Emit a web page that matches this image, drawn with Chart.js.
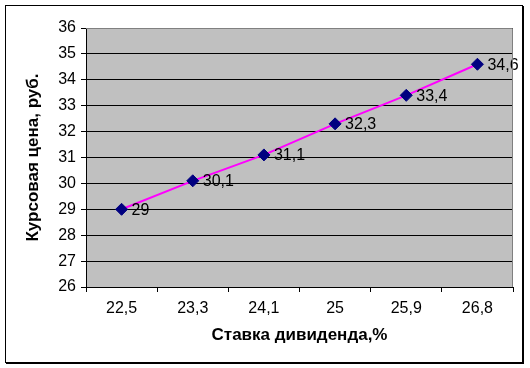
<!DOCTYPE html>
<html>
<head>
<meta charset="utf-8">
<script src="https://cdn.jsdelivr.net/npm/chart.js@4/dist/chart.umd.min.js"></script>
<style>
  html, body { margin: 0; padding: 0; background: #fff; }
  #wrap { width: 530px; height: 368px; position: relative; }
</style>
</head>
<body>
<div id="wrap"><canvas id="myChart" width="530" height="368"></canvas></div>
<script>
const rates = ["22,5", "23,3", "24,1", "25", "25,9", "26,8"];
const prices = [29, 30.1, 31.1, 32.3, 33.4, 34.6];
const yMin = 26;
const yMax = 36;

// gray plot area + outer frame
const backdrop = {
  id: "backdrop",
  beforeDraw: (chart) => {
    const ctx = chart.ctx;
    const a = chart.chartArea;
    ctx.save();
    ctx.fillStyle = "#fff";
    ctx.fillRect(0, 0, chart.width, chart.height);
    ctx.fillStyle = "#c0c0c0";
    ctx.fillRect(a.left, a.top, a.right - a.left, a.bottom - a.top);
    ctx.strokeStyle = "#000";
    ctx.lineWidth = 1;
    ctx.strokeRect(5.5, 5.5, 517, 357);
    ctx.lineWidth = 2;
    ctx.beginPath();
    ctx.moveTo(523, 6);
    ctx.lineTo(523, 363);
    ctx.lineTo(6, 363);
    ctx.stroke();
    ctx.restore();
  },
  afterDraw: (chart) => {
    const ctx = chart.ctx;
    const a = chart.chartArea;
    ctx.save();
    ctx.strokeStyle = "#808080";
    ctx.lineWidth = 1;
    ctx.beginPath();
    ctx.moveTo(a.left, a.top + 0.5);
    ctx.lineTo(a.right - 0.5, a.top + 0.5);
    ctx.lineTo(a.right - 0.5, a.bottom);
    ctx.stroke();
    ctx.restore();
  },
};

// value labels to the right of each point
const valueLabels = {
  id: "valueLabels",
  afterDatasetsDraw: (chart) => {
    const ctx = chart.ctx;
    const meta = chart.getDatasetMeta(0);
    ctx.save();
    ctx.font = "16px Arial, 'Liberation Sans', sans-serif";
    ctx.fillStyle = "#000";
    ctx.textBaseline = "middle";
    ctx.textAlign = "left";
    meta.data.forEach((pt, i) => {
      ctx.fillText(String(prices[i]).replace(".", ","), pt.x + 10, pt.y + 1);
    });
    ctx.restore();
  },
};

const fontFam = "Arial, 'Liberation Sans', sans-serif";

const ctx = document.getElementById("myChart").getContext("2d");
const myChart = new Chart(ctx, {
  type: "line",
  data: {
    labels: rates,
    datasets: [
      {
        data: prices,
        borderColor: "#ff00ff",
        borderWidth: 2,
        backgroundColor: "#000080",
        pointBackgroundColor: "#000080",
        pointBorderColor: "#000080",
        pointStyle: "rectRot",
        pointRadius: 6,
        pointBorderWidth: 1,
        tension: 0,
      },
    ],
  },
  options: {
    responsive: false,
    animation: false,
    layout: { padding: { top: 28, right: 17, bottom: 0, left: 0 } },
    plugins: {
      legend: { display: false },
      tooltip: { enabled: false },
    },
    scales: {
      x: {
        type: "category",
        offset: true,
        grid: {
          offset: true,
          drawOnChartArea: false,
          color: "#000",
          tickLength: 5,
          tickColor: "#000",
        },
        border: { color: "#000", width: 1 },
        ticks: {
          color: "#000",
          font: { family: fontFam, size: 16 },
          padding: 7,
          maxRotation: 0,
        },
        title: {
          display: true,
          text: "Ставка дивиденда,%",
          color: "#000",
          font: { family: fontFam, size: 17, weight: "bold" },
          padding: { top: 0, bottom: 22 },
        },
        afterFit: (scale) => {
          scale.height = 368 - 28 - 259;
        },
      },
      y: {
        min: yMin,
        max: yMax,
        ticks: {
          stepSize: 1,
          color: "#000",
          font: { family: fontFam, size: 16 },
          padding: 5,
        },
        grid: {
          color: "#000",
          tickLength: 5,
          tickColor: "#000",
        },
        border: { color: "#000", width: 1 },
        title: {
          display: true,
          text: "Курсовая цена, руб.",
          color: "#000",
          font: { family: fontFam, size: 17, weight: "bold" },
          padding: { top: 23, bottom: 0 },
        },
        afterFit: (scale) => {
          scale.width = 86;
        },
      },
    },
  },
  plugins: [backdrop, valueLabels],
});
</script>
</body>
</html>
